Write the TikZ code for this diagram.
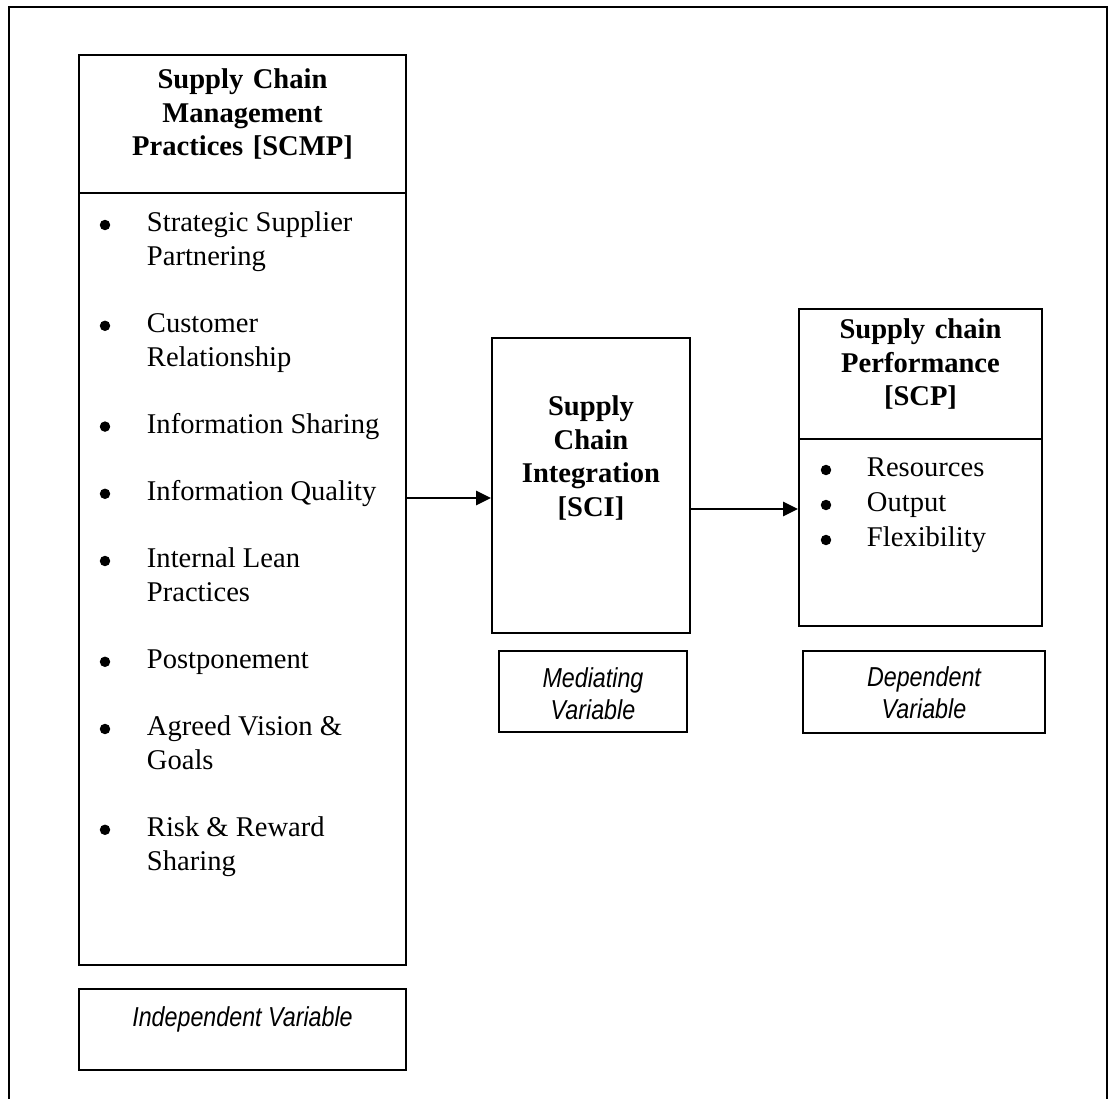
\documentclass[tikz,border=0pt]{standalone}
\usepackage{fontspec}
\setmainfont{Liberation Serif}
\setsansfont{Liberation Sans}
\usetikzlibrary{positioning, fit, arrows.meta}
\newcommand{\tline}[2]{\begin{tabular}[t]{@{}#1@{}}#2\end{tabular}}

\begin{document}
\begin{tikzpicture}[x=0.42pt, y=-0.42pt, line width=0.8pt]
        \tikzstyle{box}=[draw, rectangle, inner sep=0pt];
        \tikzstyle{title}=[align=center, font=\fontsize{12pt}{14.1pt}\selectfont\bfseries];
        \tikzstyle{item}=[anchor=base west, inner sep=0pt, font=\fontsize{12pt}{14.1pt}\selectfont];
        \tikzstyle{dot}=[circle, fill, inner sep=0pt, minimum size=4.4pt];
        \tikzstyle{var}=[anchor=base, inner sep=0pt, font=\fontsize{11.5pt}{13.4pt}\selectfont\sffamily\itshape];
        \tikzstyle{arr}=[-{Triangle[length=6.3pt, width=6pt]}];

        \useasboundingbox (0,0) rectangle (1109,1099);
        \clip (0,0) rectangle (1109,1099);
        \draw (9,1120) -- (9,7) -- (1107,7) -- (1107,1120);

        % independent variable
        \node[box, fit={(79,55) (406,965)}] (scmp) {};
        \node[box, fit={(79,55) (406,193)}, title] (scmphead) {Supply Chain\\Management\\Practices [SCMP]};
        \foreach \k/\txt in {0/{Strategic Supplier\\Partnering}, 3/{Customer\\Relationship},
                6/{Information Sharing}, 8/{Information Quality}, 10/{Internal Lean\\Practices},
                13/{Postponement}, 15/{Agreed Vision \&\\Goals}, 18/{Risk \& Reward\\Sharing}} {
            \node[dot] (scmpdot\k) at (105, {225+33.6*\k}) {};
            \node[item] (scmpitem\k) at (146, {232+33.6*\k}) {\tline{l}{\txt}};
        }
        \node[box, fit={(79,989) (406,1070)}] (indep) {};
        \node[var] (indeptext) at (242.5,1027) {\scalebox{0.85}[1]{Independent Variable}};

        % mediating variable
        \node[box, fit={(492,338) (690,633)}] (sci) {};
        \node[title, anchor=north, inner sep=0pt] (scitext) at (591,395) {Supply\\Chain\\Integration\\{}[SCI]};
        \node[box, fit={(499,651) (687,732)}] (med) {};
        \node[var] (medtext) at (593,688) {\scalebox{0.85}[1]{\tline{c}{Mediating\\Variable}}};

        % dependent variable
        \node[box, fit={(799,309) (1042,626)}] (scp) {};
        \node[box, fit={(799,309) (1042,439)}, title] (scphead) {Supply chain\\Performance\\{}[SCP]};
        \foreach \k/\txt in {0/Resources, 1/Output, 2/Flexibility} {
            \node[dot] (scpdot\k) at (826, {470+35*\k}) {};
            \node[item] (scpitem\k) at (866, {477+35*\k}) {\txt};
        }
        \node[box, fit={(803,651) (1045,733)}] (dep) {};
        \node[var] (deptext) at (924,687) {\scalebox{0.85}[1]{\tline{c}{Dependent\\Variable}}};

        \coordinate (a1) at (0,498);
        \coordinate (a2) at (0,509);
        \path[arr]
        (scmp.east |- a1) edge (sci.west |- a1)
        (sci.east |- a2) edge (scp.west |- a2);
\end{tikzpicture}
\end{document}
